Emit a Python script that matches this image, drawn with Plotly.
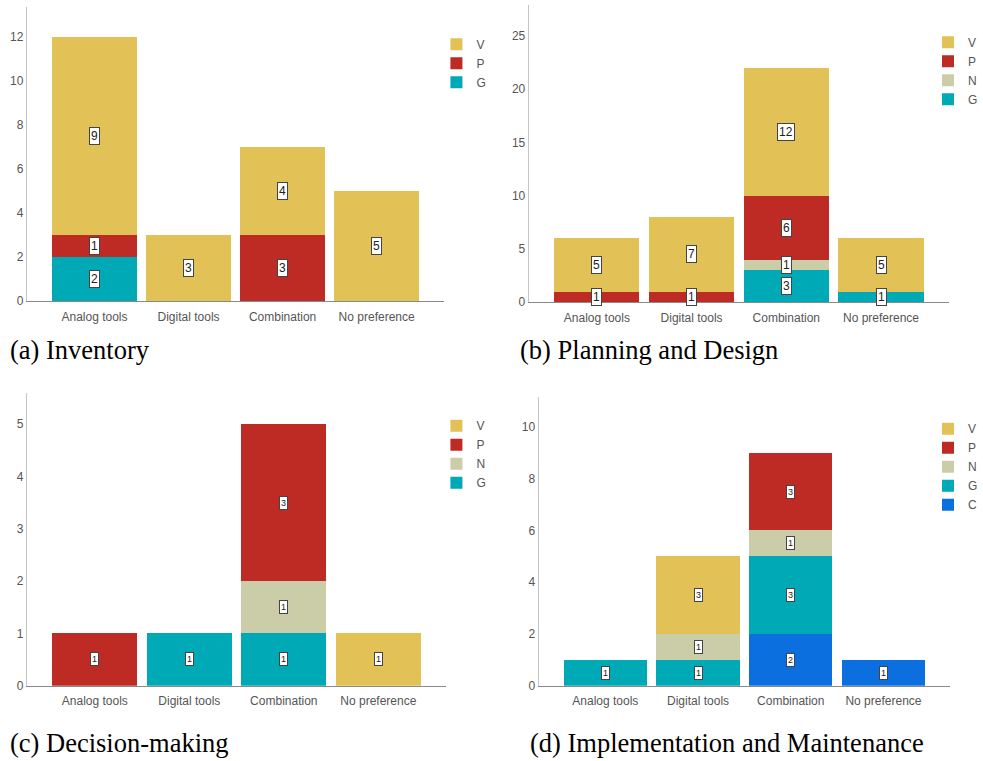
import plotly.graph_objects as go

W, H = 983, 761

categories = ["Analog tools", "Digital tools", "Combination", "No preference"]

# Panel (a) Inventory
a_V = [9, 3, 4, 5]
a_P = [1, 0, 3, 0]
a_G = [2, 0, 0, 0]

# Panel (b) Planning and Design
b_V = [5, 7, 12, 5]
b_P = [1, 1, 6, 0]
b_N = [0, 0, 1, 0]
b_G = [0, 0, 3, 1]

# Panel (c) Decision-making
c_V = [0, 0, 0, 1]
c_P = [1, 0, 3, 0]
c_N = [0, 0, 1, 0]
c_G = [0, 1, 1, 0]

# Panel (d) Implementation and Maintenance
d_V = [0, 3, 0, 0]
d_P = [0, 0, 3, 0]
d_N = [0, 1, 1, 0]
d_G = [1, 1, 3, 0]
d_C = [0, 0, 2, 1]

captions = ["(a) Inventory", "(b) Planning and Design",
            "(c) Decision-making", "(d) Implementation and Maintenance"]

colors = {"V": "#E2C256", "P": "#BE2B25", "N": "#CBCDA8", "G": "#00A9B6", "C": "#0B6FE0"}

# panels: (series bottom->top, xaxis id, yaxis id, legend id, yrange, label font size)
panels = [
    ([("G", a_G), ("P", a_P), ("V", a_V)], "x", "y", "legend", 13.35, 12),
    ([("G", b_G), ("N", b_N), ("P", b_P), ("V", b_V)], "x2", "y2", "legend2", 27.9, 12),
    ([("G", c_G), ("N", c_N), ("P", c_P), ("V", c_V)], "x3", "y3", "legend3", 5.59, 9),
    ([("C", d_C), ("G", d_G), ("N", d_N), ("P", d_P), ("V", d_V)], "x4", "y4", "legend4", 11.15, 9),
]

# pixel boxes for plot areas: (left, right, top, bottom)
boxes = [(27, 448, 7, 304), (533, 957, 5, 305), (27, 450, 397, 692), (543, 958, 401, 692)]
legend_pos = [(440, 30), (936, 28), (440, 415), (936, 418)]
caption_pos = [(8, 353, "left"), (522, 353, "left"), (8, 750, "left"), (733, 750, "center")]

fig = go.Figure()
annotations = []

for (series, xa, ya, lg, ymax, lfs) in panels:
    cum = [0] * len(categories)
    for name, vals in series:
        fig.add_trace(go.Bar(
            x=categories, y=vals, name=name, xaxis=xa, yaxis=ya, legend=lg,
            marker=dict(color=colors[name], line=dict(width=0)),
            hoverinfo="x+y+name",
        ))
        for i, v in enumerate(vals):
            if v > 0:
                annotations.append(dict(
                    x=categories[i], y=cum[i] + v / 2, xref=xa, yref=ya,
                    text=str(v), showarrow=False,
                    font=dict(family="Liberation Sans, Arial", size=lfs, color="#222"),
                    bgcolor="white", bordercolor="#444", borderwidth=1, borderpad=1,
                ))
            cum[i] += v

layout = dict(
    width=W, height=H, margin=dict(l=0, r=0, t=0, b=0),
    paper_bgcolor="white", plot_bgcolor="white",
    barmode="stack", bargap=0.1, showlegend=True,
    font=dict(family="Liberation Sans, Arial", color="#555"),
)

for k, ((l, r, t, b), (series, xa, ya, lg, ymax, lfs)) in enumerate(zip(boxes, panels)):
    suffix = "" if k == 0 else str(k + 1)
    layout["xaxis" + suffix] = dict(
        domain=[l / W, r / W], anchor="y" + suffix, range=[-0.72, 3.72],
        showgrid=False, zeroline=False, showline=True, linecolor="#8a8a8a", linewidth=1,
        ticks="outside", ticklen=4, tickcolor="rgba(0,0,0,0)",
        tickfont=dict(size=12, color="#555"),
    )
    layout["yaxis" + suffix] = dict(
        domain=[1 - b / H, 1 - t / H], anchor="x" + suffix, range=[0, ymax],
        showgrid=False, zeroline=False, showline=True, linecolor="#c4c4c4", linewidth=1,
        ticks="", tickfont=dict(size=12, color="#555"),
    )
    lx, ly = legend_pos[k]
    layout[lg] = dict(
        x=lx / W, y=1 - ly / H, xanchor="left", yanchor="top", xref="paper", yref="paper",
        traceorder="reversed", font=dict(size=12, color="#555"),
        bgcolor="rgba(0,0,0,0)", borderwidth=0, itemclick=False,
    )

for (cx, cy, anchor), text in zip(caption_pos, captions):
    annotations.append(dict(
        x=cx / W, y=1 - cy / H, xref="paper", yref="paper", text=text, showarrow=False,
        xanchor=anchor, yanchor="middle",
        font=dict(family="Liberation Serif, Times New Roman", size=26.5, color="#000"),
    ))

layout["annotations"] = annotations
fig.update_layout(**layout)

fig.write_html("out.html")
